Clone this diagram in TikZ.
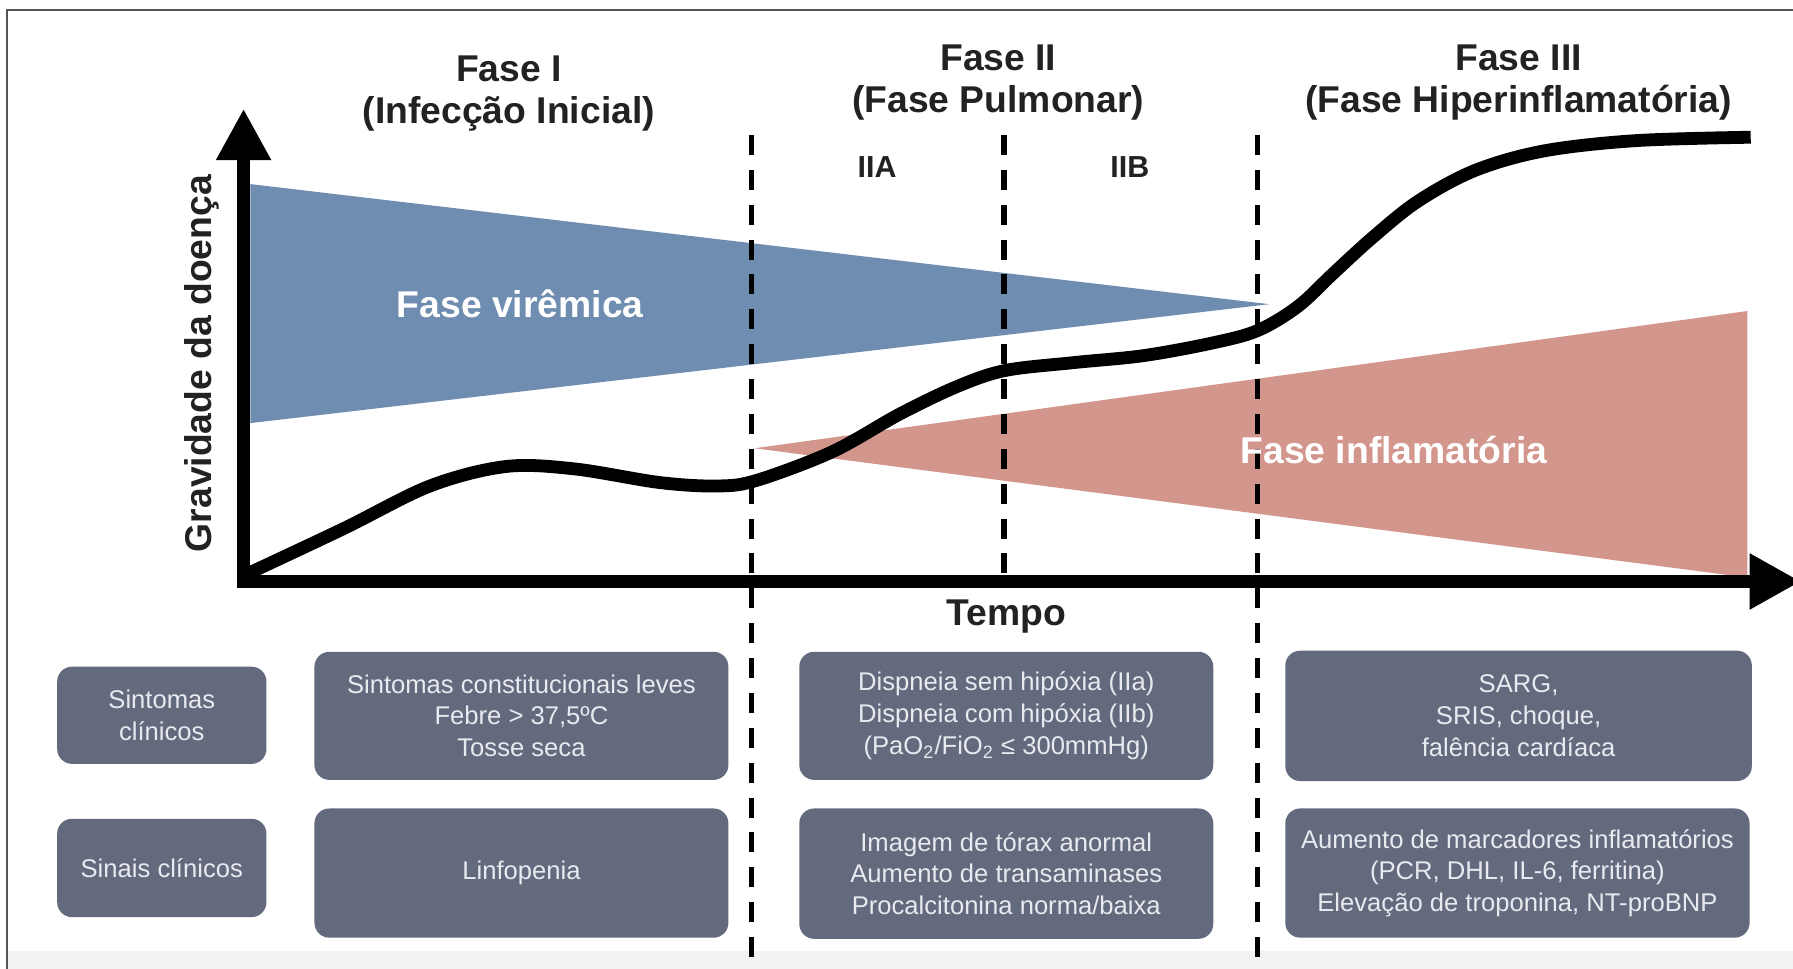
\documentclass[tikz,border=0pt]{standalone}
\usepackage{fontspec}
\setmainfont{Liberation Sans}
\usetikzlibrary{arrows.meta}
\definecolor{virblue}{RGB}{111,140,177}
\definecolor{infpink}{RGB}{211,150,140}
\definecolor{boxgray}{RGB}{99,106,125}
\definecolor{boxtext}{RGB}{232,234,240}
\definecolor{framegray}{RGB}{85,85,85}
\definecolor{ttlcol}{RGB}{34,34,34}
\begin{document}
\begin{tikzpicture}[x={(0.5pt,0)}, y={(0,-0.5pt)},
  ttl/.style={font=\fontsize{16.3}{19}\selectfont\bfseries, text=ttlcol, inner sep=0, anchor=base},
  sublbl/.style={font=\fontsize{13.3}{16}\selectfont\bfseries, text=ttlcol, inner sep=0, anchor=base},
  inlbl/.style={font=\fontsize{16.3}{19}\selectfont\bfseries, text=white, inner sep=0, anchor=base},
  boxnode/.style={fill=boxgray, rounded corners=6.5pt, text=boxtext, align=center,
    font=\fontsize{11.2}{13.9}\selectfont, inner sep=0},
  phasesep/.style={line width=2.2pt, dash pattern=on 8.75pt off 6.5pt},
  axisline/.style={line width=5.75pt},
  curveline/.style={line width=5.6pt},
]
\useasboundingbox (0,0) rectangle (1568,847);
\fill[white] (0,0) rectangle (1568,847);
\fill[gray!10] (6,832) rectangle (1568,847);
% frame
\draw[framegray, line width=0.9pt] (6,847) -- (6,9) -- (1575,9);

% triangles
\fill[virblue] (219,161) -- (1110,266) -- (219,370) -- cycle;
\fill[infpink] (660,392) -- (1528,272) -- (1528,505) -- cycle;

% phase separators
\coordinate (s1t) at (657,118); \coordinate (s1b) at (657,847);
\coordinate (s2t) at (878,118); \coordinate (s2b) at (878,505);
\coordinate (s3t) at (1100,118); \coordinate (s3b) at (1100,847);
\draw[phasesep] (s1t) -- (s1b);
\draw[phasesep] (s2t) -- (s2b);
\draw[phasesep] (s3t) -- (s3b);

% severity curve
\draw[curveline] plot[smooth, tension=0.55] coordinates {(216,502) (301,462) (376,425) (442,408) (502,410) (577,422) (628,425) (662,420) (728,395) (787,362) (837,338) (879,324) (940,317) (1000,311) (1060,300) (1100,289) (1135,268) (1165,240) (1200,208) (1240,176) (1290,149) (1350,132) (1430,123) (1531,120)};

% axes
\coordinate (orig) at (213,514);
\coordinate (ytip) at (213,95);
\coordinate (xorig) at (207,508.5);
\coordinate (xtip) at (1575,508.5);
\draw[axisline, -{Triangle[width=22.5pt,length=22.5pt]}] (orig) -- (ytip);
\draw[axisline, -{Triangle[width=23pt,length=22.5pt]}] (xorig) -- (xtip);

% titles
\node[ttl] (f1a) at (445,71.4) {Fase I};
\node[ttl] (f1b) at (445,108) {(Infecção Inicial)};
\node[ttl] (f2a) at (873,61.7) {Fase II};
\node[ttl] (f2b) at (873,98.5) {(Fase Pulmonar)};
\node[ttl] (f3a) at (1328,61.7) {Fase III};
\node[ttl] (f3b) at (1328,98.5) {(Fase Hiperinflamatória)};
\node[sublbl] (iia) at (767,155.5) {IIA};
\node[sublbl] (iib) at (988,155.5) {IIB};
\node[ttl, rotate=90] (ylab) at (185,318) {Gravidade da doença};
\node[ttl] (xlab) at (880,547) {Tempo};
\node[inlbl] (vir) at (455,278) {Fase virêmica};
\node[inlbl] (infl) at (1219,405) {Fase inflamatória};

% boxes
\node[boxnode, minimum width=91.5pt, minimum height=42.5pt] (l1) at (141.5,625.5) {Sintomas\\clínicos};
\node[boxnode, minimum width=91.5pt, minimum height=43pt] (l2) at (141.5,759) {Sinais clínicos};
\node[boxnode, minimum width=181pt, minimum height=56pt] (a1) at (456,626) {Sintomas constitucionais leves\\Febre > 37,5ºC\\Tosse seca};
\node[boxnode, minimum width=181pt, minimum height=56.5pt] (a2) at (456,763.5) {Linfopenia};
\node[boxnode, minimum width=181pt, minimum height=56pt] (b1) at (880,626) {Dispneia sem hipóxia (IIa)\\Dispneia com hipóxia (IIb)\\(PaO\textsubscript{2}/FiO\textsubscript{2} ≤ 300mmHg)};
\node[boxnode, minimum width=181pt, minimum height=57pt] (b2) at (880,764) {Imagem de tórax anormal\\Aumento de transaminases\\Procalcitonina norma/baixa};
\node[boxnode, minimum width=204pt, minimum height=57pt] (c1) at (1328,626) {SARG,\\SRIS, choque,\\falência cardíaca};
\node[boxnode, minimum width=203pt, minimum height=56.5pt] (c2) at (1327,763.5) {Aumento de marcadores inflamatórios\\(PCR, DHL, IL-6, ferritina)\\Elevação de troponina, NT-proBNP};
\end{tikzpicture}
\end{document}
